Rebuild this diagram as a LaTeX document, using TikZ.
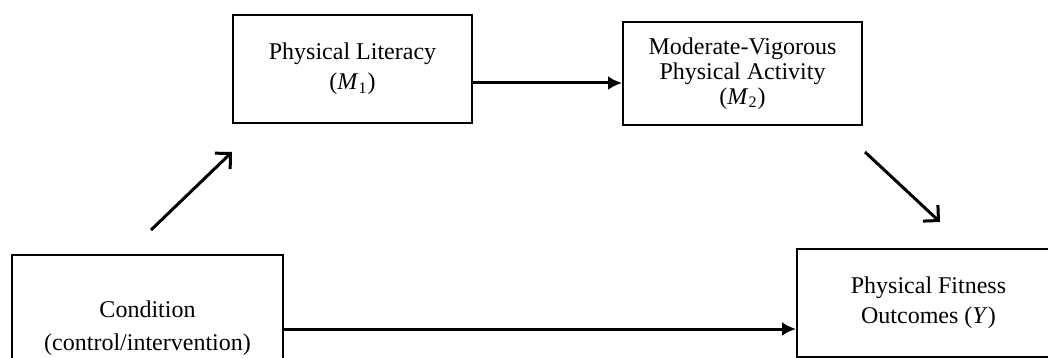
\documentclass[tikz,border=0pt]{standalone}
\usepackage{fontspec}
\setmainfont{Liberation Serif}
\usetikzlibrary{arrows.meta}

\tikzset{
  varbox/.style={draw, line width=1pt, minimum width=#1, align=center, inner sep=0pt,
    font=\fontsize{12}{15}\selectfont},
  straightarrow/.style={line width=1.5pt, -{Latex[length=7pt,width=7pt]}},
  pathlink/.style={line width=1.5pt, -{Straight Barb[length=5.5pt,width=11pt,line width=1.5pt]}},
}

\begin{document}
\begin{tikzpicture}[x=0.5pt, y=-0.5pt]
  \useasboundingbox (0,0) rectangle (1048,358);
  \clip (0,0) rectangle (1048,358);

  % mediators
  \node[varbox=119.5pt, minimum height=54pt] (pl) at (352.5,69)
    {\raisebox{-1.5pt}{\parbox{110pt}{\centering Physical Literacy\\(\textit{M}\textsubscript{1})}}};
  \node[varbox=119.5pt, minimum height=51.5pt, font=\fontsize{12}{12.5}\selectfont] (mv) at (742.5,73.5)
    {Moderate-Vigorous\\Physical Activity\\(\textit{M}\textsubscript{2})};

  % predictor and outcome
  \node[varbox=135.5pt, minimum height=73pt, font=\fontsize{12}{16.5}\selectfont] (cond) at (147.5,328)
    {\raisebox{-1.5pt}{\parbox{130pt}{\centering Condition\\(control/intervention)}}};
  \node[varbox=131.5pt, minimum height=54pt] (fit) at (928.5,303)
    {\raisebox{-3pt}{\parbox{120pt}{\centering Physical Fitness\\Outcomes (\textit{Y})}}};

  % free ends of the indirect-path arrows
  \coordinate (a1s) at (151,230);
  \coordinate (a1e) at (232,152);
  \coordinate (a2s) at (865,152);
  \coordinate (a2e) at (940,222);
  \coordinate (h1) at (pl.east |- 0,83);
  \coordinate (h2) at (cond.east |- 0,329);

  \draw[pathlink] (a1s) -- (a1e);
  \draw[pathlink] (a2s) -- (a2e);
  \draw[straightarrow] (h1) -- (h1 -| mv.west);
  \draw[straightarrow] (h2) -- (h2 -| fit.west);
\end{tikzpicture}
\end{document}
